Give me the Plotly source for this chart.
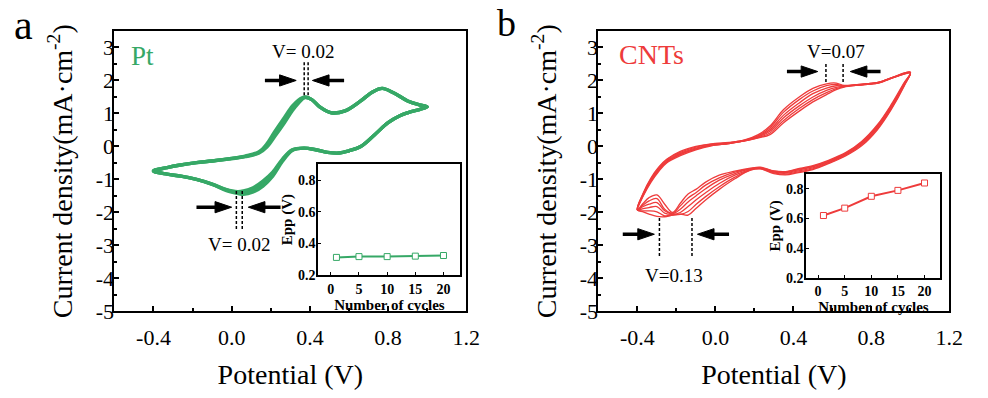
import plotly.graph_objects as go

# ---------------- data ----------------
# Pt electrode CV (potential V, current density mA/cm2), cycles 1, 10, 20
pt_fwd_v = [-0.4, -0.33, -0.27, -0.18, -0.1, 0.0, 0.07, 0.14, 0.18, 0.22, 0.27, 0.31, 0.34, 0.375,
            0.41, 0.45, 0.51, 0.58, 0.66, 0.72, 0.77, 0.83, 0.9, 0.96, 1.0]
pt_rev_v = [0.96, 0.9, 0.86, 0.8, 0.73, 0.66, 0.6, 0.55, 0.49, 0.43, 0.37, 0.31, 0.26, 0.21, 0.16,
            0.11, 0.06, 0.03, -0.03, -0.1, -0.18, -0.26, -0.33, -0.4]
pt_fwd = {
    1:  [-0.74, -0.64, -0.57, -0.49, -0.44, -0.36, -0.29, -0.16, 0.08, 0.45, 0.88, 1.22, 1.4, 1.5,
         1.42, 1.2, 1.02, 1.08, 1.38, 1.65, 1.76, 1.62, 1.38, 1.26, 1.2],
    10: [-0.74, -0.64, -0.57, -0.49, -0.44, -0.365, -0.3, -0.18, 0.03, 0.38, 0.8, 1.15, 1.35, 1.49,
         1.42, 1.2, 1.02, 1.08, 1.38, 1.65, 1.76, 1.62, 1.38, 1.26, 1.2],
    20: [-0.74, -0.64, -0.57, -0.49, -0.44, -0.37, -0.31, -0.2, -0.02, 0.3, 0.72, 1.08, 1.3, 1.48,
         1.42, 1.2, 1.02, 1.08, 1.38, 1.65, 1.76, 1.62, 1.38, 1.26, 1.2],
}
pt_rev = {
    1:  [1.12, 1.02, 0.93, 0.72, 0.35, 0.0, -0.13, -0.2, -0.18, -0.1, -0.05, -0.12, -0.45, -0.9,
         -1.2, -1.38, -1.45, -1.42, -1.33, -1.15, -1.0, -0.9, -0.84, -0.74],
    10: [1.12, 1.02, 0.93, 0.72, 0.35, 0.0, -0.13, -0.2, -0.18, -0.1, -0.05, -0.11, -0.41, -0.84,
         -1.12, -1.31, -1.4, -1.4, -1.31, -1.14, -1.0, -0.9, -0.84, -0.74],
    20: [1.12, 1.02, 0.93, 0.72, 0.35, 0.0, -0.13, -0.2, -0.18, -0.1, -0.05, -0.1, -0.38, -0.78,
         -1.05, -1.25, -1.35, -1.37, -1.3, -1.14, -1.0, -0.9, -0.84, -0.74],
}

# CNTs electrode CV, cycles 1, 4, 8, 12, 16, 20
cnt_fwd_v = [-0.4, -0.37, -0.33, -0.29, -0.25, -0.18, -0.1, -0.02, 0.07, 0.15, 0.22, 0.28, 0.35, 0.43,
             0.5, 0.57, 0.62, 0.66, 0.72, 0.78, 0.84, 0.92, 1.0]
cnt_rev_v = [0.97, 0.9, 0.83, 0.75, 0.67, 0.58, 0.5, 0.42, 0.36, 0.3, 0.23, 0.18, 0.1, 0.02, -0.05,
             -0.1, -0.14, -0.18, -0.22, -0.26, -0.3, -0.34, -0.37, -0.4]
cnt_fwd = {
    1:  [-1.92, -1.41, -0.95, -0.62, -0.39, -0.15, 0.0, 0.08, 0.12, 0.2, 0.36, 0.62, 1.12, 1.5, 1.76, 1.9, 1.92, 1.85, 1.87, 1.9, 1.95, 2.12, 2.25],
    4:  [-1.92, -1.43, -0.98, -0.65, -0.41, -0.18, -0.02, 0.07, 0.11, 0.19, 0.33, 0.57, 1.04, 1.42, 1.68, 1.84, 1.88, 1.84, 1.87, 1.9, 1.95, 2.12, 2.25],
    8:  [-1.92, -1.45, -1.01, -0.68, -0.44, -0.21, -0.05, 0.05, 0.11, 0.18, 0.31, 0.51, 0.95, 1.32, 1.6, 1.77, 1.84, 1.83, 1.86, 1.89, 1.94, 2.11, 2.24],
    12: [-1.92, -1.46, -1.03, -0.7, -0.46, -0.23, -0.07, 0.04, 0.1, 0.18, 0.29, 0.46, 0.87, 1.23, 1.5, 1.7, 1.79, 1.82, 1.86, 1.89, 1.94, 2.11, 2.23],
    16: [-1.92, -1.48, -1.05, -0.72, -0.48, -0.25, -0.08, 0.03, 0.09, 0.17, 0.27, 0.41, 0.79, 1.15, 1.42, 1.63, 1.75, 1.81, 1.85, 1.88, 1.93, 2.1, 2.23],
    20: [-1.92, -1.5, -1.08, -0.75, -0.5, -0.28, -0.1, 0.02, 0.09, 0.17, 0.26, 0.36, 0.72, 1.07, 1.35, 1.57, 1.72, 1.8, 1.85, 1.88, 1.93, 2.1, 2.22],
}
cnt_rev = {
    1:  [1.85, 1.1, 0.5, 0.02, -0.28, -0.52, -0.7, -0.8, -0.86, -0.82, -0.68, -0.72, -0.98, -1.3, -1.62, -1.88, -2.08, -2.05, -2.08, -2.13, -2.12, -2.05, -1.98, -1.92],
    4:  [1.87, 1.13, 0.53, 0.05, -0.26, -0.5, -0.68, -0.78, -0.84, -0.8, -0.67, -0.71, -0.93, -1.22, -1.52, -1.76, -1.97, -2.06, -2.08, -2.1, -1.98, -1.95, -1.95, -1.92],
    8:  [1.89, 1.16, 0.56, 0.08, -0.24, -0.48, -0.65, -0.75, -0.81, -0.78, -0.66, -0.7, -0.87, -1.12, -1.4, -1.62, -1.82, -2.0, -2.06, -2.02, -1.82, -1.85, -1.88, -1.92],
    12: [1.91, 1.19, 0.59, 0.1, -0.22, -0.46, -0.62, -0.72, -0.79, -0.76, -0.65, -0.68, -0.82, -1.02, -1.28, -1.5, -1.68, -1.9, -2.04, -1.95, -1.7, -1.75, -1.82, -1.92],
    16: [1.93, 1.22, 0.62, 0.13, -0.2, -0.44, -0.6, -0.7, -0.77, -0.75, -0.64, -0.67, -0.78, -0.95, -1.17, -1.4, -1.56, -1.8, -2.02, -1.9, -1.58, -1.65, -1.77, -1.92],
    20: [1.95, 1.25, 0.65, 0.15, -0.18, -0.42, -0.58, -0.68, -0.76, -0.74, -0.63, -0.66, -0.75, -0.87, -1.08, -1.3, -1.44, -1.72, -2.0, -1.75, -1.47, -1.55, -1.72, -1.92],
}

# insets: peak separation vs cycle number
cycles = [1, 5, 10, 15, 20]
pt_epp = [0.31, 0.315, 0.315, 0.318, 0.322]
cnt_epp = [0.62, 0.67, 0.75, 0.79, 0.84]

# main axis ticks
x_ticks = [-0.4, 0.0, 0.4, 0.8, 1.2]
x_tick_text = ["-0.4", "0.0", "0.4", "0.8", "1.2"]
y_ticks = [3, 2, 1, 0, -1, -2, -3, -4, -5]
y_tick_text = ["3", "2", "1", "0", "-1", "-2", "-3", "-4", "-5"]
inset_x_ticks = [0, 5, 10, 15, 20]
inset_y_ticks = [0.2, 0.4, 0.6, 0.8]
inset_y_text = ["0.2", "0.4", "0.6", "0.8"]

# peak-shift markers: (x1, x2, y_top, y_bottom, label, label_x, label_y)
pt_marks = [(0.371, 0.391, 2.55, 1.55, "V= 0.02", 0.367, 2.88),
            (0.024, 0.054, -1.35, -2.5, "V= 0.02", 0.037, -2.98)]
cnt_marks = [(0.567, 0.655, 2.5, 1.9, "V=0.07", 0.617, 2.88),
             (-0.287, -0.12, -2.17, -3.36, "V=0.13", -0.21, -3.9)]
# arrows: (head_x, head_y, tail_x, tail_y)
pt_arrows = [(0.33, 2.0, 0.17, 2.0), (0.413, 2.0, 0.575, 2.0),
             (0.0, -1.84, -0.18, -1.84), (0.085, -1.84, 0.25, -1.84)]
cnt_arrows = [(0.525, 2.27, 0.367, 2.27), (0.692, 2.27, 0.847, 2.27),
              (-0.313, -2.66, -0.475, -2.66), (-0.092, -2.66, 0.07, -2.66)]

GREEN = "#36a866"
RED = "#ee3b3b"
SERIF = "Liberation Serif"

fig = go.Figure()

# Pt curves
for k in pt_fwd:
    fig.add_trace(go.Scatter(x=pt_fwd_v + pt_rev_v, y=pt_fwd[k] + pt_rev[k], mode="lines",
                             line=dict(color=GREEN, width=3.4, shape="spline", smoothing=1.0),
                             xaxis="x", yaxis="y", showlegend=False, hoverinfo="skip"))
# CNT curves
for k in cnt_fwd:
    fig.add_trace(go.Scatter(x=cnt_fwd_v + cnt_rev_v, y=cnt_fwd[k] + cnt_rev[k], mode="lines",
                             line=dict(color=RED, width=1.3, shape="spline", smoothing=1.0),
                             xaxis="x2", yaxis="y2", showlegend=False, hoverinfo="skip"))
# insets
fig.add_trace(go.Scatter(x=cycles, y=pt_epp, mode="lines+markers",
                         line=dict(color=GREEN, width=2),
                         marker=dict(symbol="square", size=6, color="white", line=dict(color=GREEN, width=1)),
                         xaxis="x3", yaxis="y3", showlegend=False))
fig.add_trace(go.Scatter(x=cycles, y=cnt_epp, mode="lines+markers",
                         line=dict(color=RED, width=2),
                         marker=dict(symbol="square", size=6, color="white", line=dict(color=RED, width=1)),
                         xaxis="x4", yaxis="y4", showlegend=False))

shapes = []
annotations = []
HEAD_LEN = 0.085   # arrow head length, x units
HEAD_HALF = 0.17   # arrow head half height, y units
for (marks, arrows, xr, yr) in [(pt_marks, pt_arrows, "x", "y"), (cnt_marks, cnt_arrows, "x2", "y2")]:
    for (x1, x2, yt, yb, lab, lx, ly) in marks:
        for xv in (x1, x2):
            shapes.append(dict(type="line", xref=xr, yref=yr, x0=xv, x1=xv, y0=yt, y1=yb,
                               line=dict(color="black", width=1.5, dash="3px,2px")))
        annotations.append(dict(text=lab, x=lx, y=ly, xref=xr, yref=yr, showarrow=False,
                                font=dict(family=SERIF, size=19, color="black")))
    for (hx, hy, tx, ty) in arrows:
        d = 1 if hx > tx else -1
        bx = hx - d * HEAD_LEN
        shapes.append(dict(type="line", xref=xr, yref=yr, x0=tx, x1=bx + d * 0.01, y0=ty, y1=hy,
                           line=dict(color="black", width=3.5)))
        shapes.append(dict(type="path", xref=xr, yref=yr,
                           path=f"M {hx},{hy} L {bx},{hy + HEAD_HALF} L {bx},{hy - HEAD_HALF} Z",
                           fillcolor="black", line=dict(color="black", width=1)))

annotations.append(dict(text="Pt", x=-0.457, y=2.75, xref="x", yref="y", showarrow=False,
                        font=dict(family=SERIF, size=27, color=GREEN)))
annotations.append(dict(text="CNTs", x=-0.33, y=2.8, xref="x2", yref="y2", showarrow=False,
                        font=dict(family=SERIF, size=28, color=RED)))
annotations.append(dict(text="a", x=24 / 988, y=1.0, xref="paper", yref="paper", xanchor="center",
                        yanchor="top", showarrow=False, font=dict(family=SERIF, size=42, color="black")))
annotations.append(dict(text="b", x=514 / 988, y=1.0, xref="paper", yref="paper", xanchor="center",
                        yanchor="top", showarrow=False, font=dict(family=SERIF, size=38, color="black")))

main_y_dom = [(398 - 322) / 398, (398 - 32) / 398]
tickfont = dict(family=SERIF, size=22, color="black")
titlefont = dict(family=SERIF, size=28, color="black")


def main_x(domain, anchor):
    return dict(domain=domain, anchor=anchor, range=[-0.6, 1.2], tickvals=x_ticks, ticktext=x_tick_text,
                ticks="inside", ticklen=5, tickwidth=1.5, tickcolor="black",
                minor=dict(ticks="inside", ticklen=3, tickwidth=1.5, dtick=0.2, tick0=0, tickcolor="black"),
                showline=True, linecolor="black", linewidth=2, mirror=True, showgrid=False, zeroline=False,
                tickfont=tickfont, ticklabelstandoff=5,
                title=dict(text="Potential (V)", font=titlefont, standoff=16))


def main_y(domain, anchor):
    return dict(domain=domain, anchor=anchor, range=[-5, 3.5], tickvals=y_ticks, ticktext=y_tick_text,
                ticks="inside", ticklen=5, tickwidth=1.5, tickcolor="black",
                minor=dict(ticks="inside", ticklen=3, tickwidth=1.5, dtick=0.5, tick0=0, tickcolor="black"),
                showline=True, linecolor="black", linewidth=2, mirror=True, showgrid=False, zeroline=False,
                tickfont=tickfont, ticklabelstandoff=-6,
                title=dict(text="Current density(mA·cm<sup>-2</sup>)", font=titlefont, standoff=15))


inset_tickfont = dict(family=SERIF, size=14, color="black", weight="bold")
inset_titlefont = dict(family=SERIF, size=15, color="black", weight="bold")


def inset_x(domain, anchor):
    return dict(domain=domain, anchor=anchor, range=[-2.2, 23], tickvals=inset_x_ticks,
                ticks="inside", ticklen=3, tickwidth=1.2, tickcolor="black",
                showline=True, linecolor="black", linewidth=2, mirror=True, showgrid=False, zeroline=False,
                tickfont=inset_tickfont, ticklabelstandoff=0,
                title=dict(text="Number of cycles", font=inset_titlefont, standoff=3))


def inset_y(domain, anchor):
    return dict(domain=domain, anchor=anchor, range=[0.2, 0.9], tickvals=inset_y_ticks, ticktext=inset_y_text,
                ticks="inside", ticklen=3, tickwidth=1.2, tickcolor="black",
                showline=True, linecolor="black", linewidth=2, mirror=True, showgrid=False, zeroline=False,
                tickfont=inset_tickfont, ticklabelstandoff=-2,
                title=dict(text="Epp (V)", font=inset_titlefont, standoff=2))


fig.update_layout(
    width=988, height=398, margin=dict(l=0, r=0, t=0, b=0),
    paper_bgcolor="white", plot_bgcolor="white", showlegend=False,
    xaxis=main_x([116 / 988, 473 / 988], "y"),
    yaxis=main_y(main_y_dom, "x"),
    xaxis2=main_x([607 / 988, 963 / 988], "y2"),
    yaxis2=main_y(main_y_dom, "x2"),
    xaxis3=inset_x([323 / 988, 467 / 988], "y3"),
    yaxis3=inset_y([(398 - 284) / 398, (398 - 170) / 398], "x3"),
    xaxis4=inset_x([818 / 988, 954 / 988], "y4"),
    yaxis4=inset_y([(398 - 287) / 398, (398 - 180) / 398], "x4"),
    shapes=shapes, annotations=annotations,
)

fig.write_html("out.html")
